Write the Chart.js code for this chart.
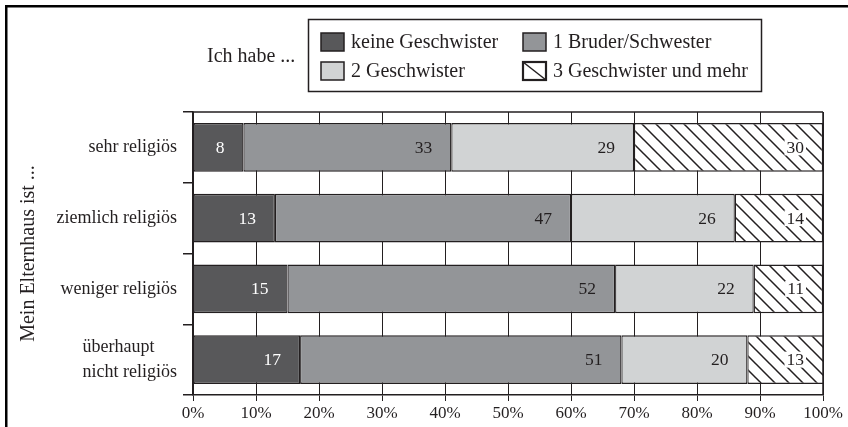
<!DOCTYPE html>
<html>
<head>
<meta charset="utf-8">
<script src="https://cdn.jsdelivr.net/npm/chart.js@4.4.1/dist/chart.umd.min.js"></script>
<style>
  html, body { margin: 0; padding: 0; background: #fff; }
  #wrap { position: relative; width: 848px; height: 427px; }
</style>
</head>
<body>
<div id="wrap"><canvas id="chart"></canvas></div>
<script>
const categories = ['sehr religiös', 'ziemlich religiös', 'weniger religiös', ['überhaupt     ', 'nicht religiös']];
const seriesNames = ['keine Geschwister', '1 Bruder/Schwester', '2 Geschwister', '3 Geschwister und mehr'];

const keineGeschwister = [8, 13, 15, 17];
const einBruder = [33, 47, 52, 51];
const zweiGeschwister = [29, 26, 22, 20];
const dreiUndMehr = [30, 14, 11, 13];

const xTicks = [0, 10, 20, 30, 40, 50, 60, 70, 80, 90, 100];

const ink = '#231f20';
const serif = '"Liberation Serif", "Times New Roman", serif';

Chart.defaults.font.family = serif;
Chart.defaults.color = ink;

const canvas = document.getElementById('chart');

// diagonal hatch for the last series
function makeHatch() {
  const size = 14;
  const c = document.createElement('canvas');
  c.width = size;
  c.height = size;
  const g = c.getContext('2d');
  g.fillStyle = '#fff';
  g.fillRect(0, 0, size, size);
  g.strokeStyle = ink;
  g.lineWidth = 1.5;
  g.beginPath();
  g.moveTo(-2, -2); g.lineTo(size + 2, size + 2);
  g.moveTo(-2, size - 2); g.lineTo(2, size + 2);
  g.moveTo(size - 2, -2); g.lineTo(size + 2, 2);
  g.stroke();
  return canvas.getContext('2d').createPattern(c, 'repeat');
}
const hatch = makeHatch();

const fills = ['#58585a', '#939598', '#d1d3d4', hatch];
const values = [keineGeschwister, einBruder, zweiGeschwister, dreiUndMehr];

// frame, plot top/right edge, value labels and the boxed legend
const decorations = {
  id: 'decorations',
  beforeDraw(chart) {
    const ctx = chart.ctx;
    ctx.save();
    ctx.fillStyle = '#fff';
    ctx.fillRect(0, 0, chart.width, chart.height);
    ctx.fillStyle = '#000';
    ctx.fillRect(5, 5, chart.width - 5, 2.5);
    ctx.fillRect(5, 5, 2.5, chart.height - 5);
    ctx.restore();
  },
  afterDatasetsDraw(chart) {
    const ctx = chart.ctx;
    const area = chart.chartArea;
    ctx.save();
    ctx.strokeStyle = ink;
    ctx.lineWidth = 1.5;
    ctx.beginPath();
    ctx.moveTo(area.left, area.top);
    ctx.lineTo(area.right, area.top);
    ctx.moveTo(area.right, area.top);
    ctx.lineTo(area.right, area.bottom);
    ctx.stroke();

    ctx.font = '17.5px ' + serif;
    ctx.textAlign = 'right';
    ctx.textBaseline = 'middle';
    chart.data.datasets.forEach((ds, i) => {
      const meta = chart.getDatasetMeta(i);
      meta.data.forEach((bar, j) => {
        const txt = String(ds.data[j]);
        const x = Math.min(bar.x, area.right) - 19;
        if (i === 3) {
          const w = ctx.measureText(txt).width;
          ctx.fillStyle = '#fff';
          ctx.fillRect(x - w - 2, bar.y - 8, w + 4, 16);
        }
        ctx.fillStyle = i === 0 ? '#fff' : ink;
        ctx.fillText(txt, x, bar.y + 1);
      });
    });
    ctx.restore();
  },
  afterDraw(chart) {
    const ctx = chart.ctx;
    ctx.save();
    ctx.font = '20px ' + serif;
    ctx.textBaseline = 'middle';
    ctx.textAlign = 'left';
    ctx.fillStyle = ink;
    ctx.fillText('Ich habe ...', 207, 57);

    ctx.strokeStyle = ink;
    ctx.lineWidth = 1.5;
    ctx.strokeRect(308.5, 19.5, 453, 72);

    const cols = [321, 523];
    const rows = [42, 71];
    chart.data.datasets.forEach((ds, i) => {
      const bx = cols[i % 2];
      const cy = rows[Math.floor(i / 2)];
      const by = cy - 9;
      if (i === 3) {
        ctx.fillStyle = '#fff';
        ctx.fillRect(bx, by, 23, 18);
        ctx.lineWidth = 1.5;
        ctx.beginPath();
        ctx.moveTo(bx, by);
        ctx.lineTo(bx + 23, by + 18);
        ctx.stroke();
        ctx.lineWidth = 2.2;
      } else {
        ctx.fillStyle = ds.backgroundColor;
        ctx.fillRect(bx, by, 23, 18);
        ctx.lineWidth = 1.5;
      }
      ctx.strokeRect(bx, by, 23, 18);
      ctx.fillStyle = ink;
      ctx.fillText(ds.label, bx + 30, cy + 1);
    });
    ctx.restore();
  }
};

new Chart(canvas, {
  type: 'bar',
  data: {
    labels: categories,
    datasets: seriesNames.map((name, i) => ({
      label: name,
      data: values[i],
      backgroundColor: fills[i],
      borderColor: ink,
      borderWidth: { top: 1.6, bottom: 1.6, left: 1.25, right: 1.25 },
      borderSkipped: false,
      barPercentage: 0.69,
      categoryPercentage: 1,
      clip: 0
    }))
  },
  options: {
    indexAxis: 'y',
    responsive: true,
    maintainAspectRatio: false,
    animation: false,
    layout: {
      padding: { top: 112, left: 8, right: 25, bottom: 0 }
    },
    scales: {
      x: {
        stacked: true,
        min: 0,
        max: 100,
        afterBuildTicks: (scale) => {
          scale.ticks = xTicks.map(v => ({ value: v }));
        },
        afterFit: (scale) => { scale.height = 32; },
        grid: {
          color: ink,
          lineWidth: 1,
          tickLength: 6
        },
        border: { color: ink, width: 1.5 },
        ticks: {
          font: { size: 17 },
          color: ink,
          padding: 2,
          maxRotation: 0,
          autoSkip: false,
          callback: (v) => v + '%'
        }
      },
      y: {
        stacked: true,
        afterFit: (scale) => { scale.width = 185; },
        grid: {
          drawOnChartArea: false,
          color: ink,
          lineWidth: 1.5,
          tickLength: 10
        },
        border: { color: ink, width: 1.5 },
        ticks: {
          font: { size: 18, lineHeight: 1.4 },
          color: ink,
          padding: 6
        },
        title: {
          display: true,
          text: 'Mein Elternhaus ist ...',
          font: { size: 20 },
          color: ink,
          padding: { top: 9, bottom: 0 }
        }
      }
    },
    plugins: {
      legend: { display: false },
      tooltip: { enabled: false }
    }
  },
  plugins: [decorations]
});
</script>
</body>
</html>
